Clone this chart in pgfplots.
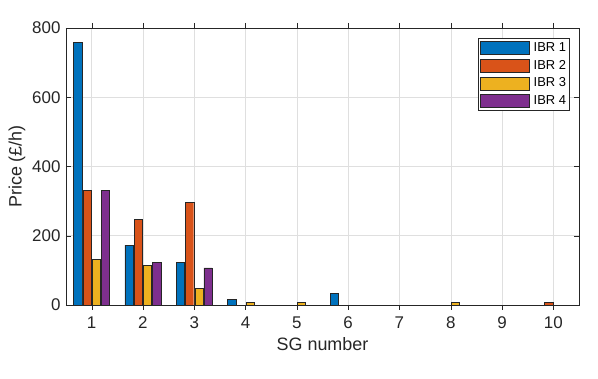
\documentclass[border=0pt]{standalone}
\usepackage{fontspec}
\setmainfont{Liberation Sans}
\usepackage{pgfplots}
\pgfplotsset{compat=1.18}
\definecolor{c1}{rgb}{0,0.447,0.741}
\definecolor{c2}{rgb}{0.85,0.325,0.098}
\definecolor{c3}{rgb}{0.929,0.694,0.125}
\definecolor{c4}{rgb}{0.494,0.184,0.556}
\definecolor{axgray}{rgb}{0.15,0.15,0.15}
\begin{document}
\begin{tikzpicture}
\begin{axis}[
  scale only axis,
  width=513bp, height=277bp,
  xmin=0.5, xmax=10.5,
  ymin=0, ymax=800,
  xtick={1,...,10},
  ytick={0,200,400,600,800},
  axis line style={axgray},
  tick style={axgray},
  tick align=inside,
  major tick length=5bp,
  xmajorgrids, ymajorgrids,
  grid style={gray!25, line width=0.5pt},
  /pgf/number format/assume math mode=true,
  ticklabel style={font=\fontsize{17}{19}\selectfont, text=axgray},
  xticklabel style={yshift=-3bp},
  yticklabel style={xshift=-2bp},
  xlabel={SG number},
  ylabel={Price (£/h)},
  label style={font=\fontsize{18}{20}\selectfont, text=axgray},
  xlabel style={yshift=-2bp},
  ybar,
  bar width=0.16,
  legend style={at={(0.982,0.965)}, anchor=north east, font=\fontsize{13}{15}\selectfont,
    draw=axgray, row sep=4.3bp, inner xsep=2bp, inner ysep=3bp,
    nodes={inner sep=1.5bp}},
  legend cell align=left,
  legend image code/.code={\draw[#1] (0bp,-6.5bp) rectangle (49bp,6.5bp); \path (52bp,0bp);},
]
\addplot[fill=c1, draw=black!85, bar shift=-0.27] coordinates {(1,758) (2,173) (3,123) (4,16) (6,33)};
\addplot[fill=c2, draw=black!85, bar shift=-0.09] coordinates {(1,331) (2,248) (3,297) (10,8)};
\addplot[fill=c3, draw=black!85, bar shift=0.09] coordinates {(1,132) (2,115) (3,48) (4,8) (5,8) (8,8)};
\addplot[fill=c4, draw=black!85, bar shift=0.27] coordinates {(1,331) (2,123) (3,107)};
\legend{IBR 1, IBR 2, IBR 3, IBR 4}
\end{axis}
\path (current axis.south west) ++(-66bp,-74bp) coordinate (bl);
\path (current axis.north east) ++(19bp,28bp) coordinate (tr);
\useasboundingbox (bl) rectangle (tr);
\end{tikzpicture}
\end{document}
